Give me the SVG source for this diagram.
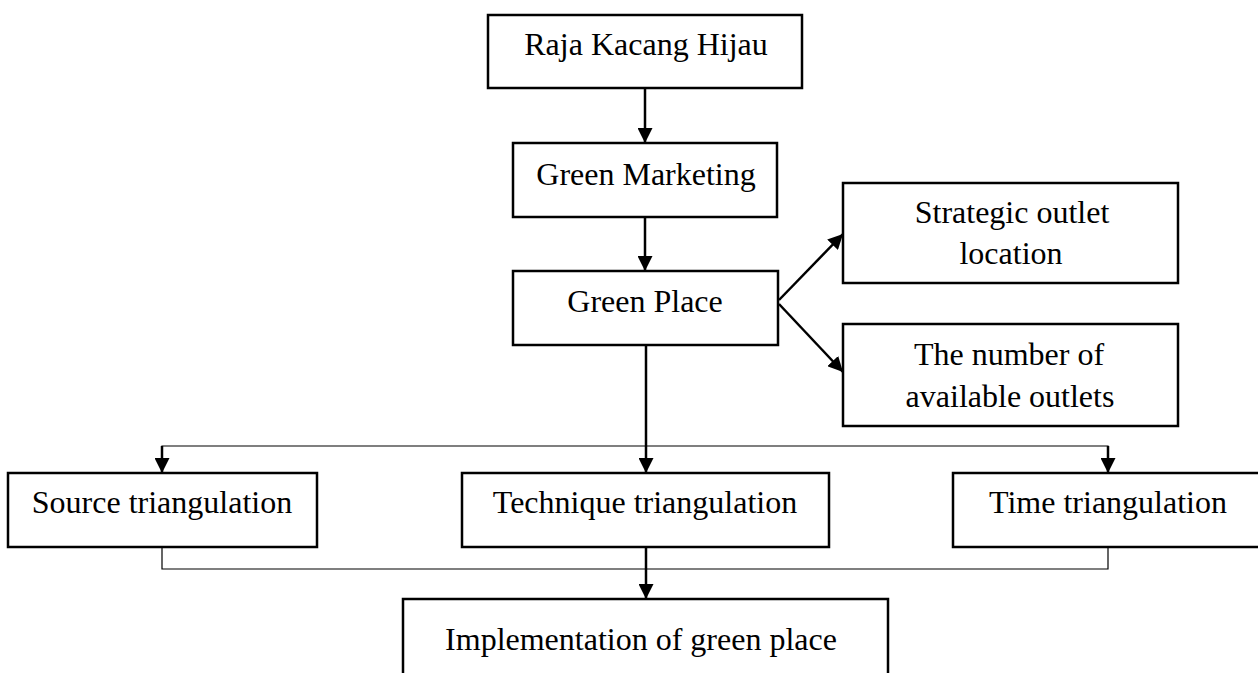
<svg xmlns="http://www.w3.org/2000/svg" width="1258" height="673" viewBox="0 0 1258 673">
<defs>
<marker id="ah" markerUnits="userSpaceOnUse" markerWidth="15" markerHeight="15" refX="15" refY="7.5" orient="auto">
<path d="M0,0 L15,7.5 L0,15 z" fill="#000"/>
</marker>
<style>
.box{fill:#fff;stroke:#000;stroke-width:2.5}
.t{font-family:"Liberation Serif","Times New Roman",serif;font-size:32px;fill:#000;text-anchor:middle}
.arr{stroke:#000;stroke-width:2.5;fill:none;marker-end:url(#ah)}
.thin{stroke:#000;stroke-width:1.2;fill:none}
</style>
</defs>
<rect width="1258" height="673" fill="#fff"/>
<g id="connectors">
<line class="arr" x1="645" y1="88" x2="645" y2="143"/>
<line class="arr" x1="645" y1="217" x2="645" y2="271"/>
<line class="arr" x1="779" y1="300" x2="843" y2="234"/>
<line class="arr" x1="779" y1="304" x2="843" y2="372"/>
<line class="arr" x1="646" y1="345" x2="646" y2="473"/>
<polyline class="thin" points="162,460 162,446 1108,446 1108,460"/>
<line class="arr" x1="162" y1="446" x2="162" y2="473"/>
<line class="arr" x1="1108" y1="446" x2="1108" y2="473"/>
<polyline class="thin" points="162,547 162,569 1108,569 1108,547"/>
<line class="arr" x1="646" y1="547" x2="646" y2="599"/>
</g>
<g id="raja">
<rect class="box" x="488" y="15" width="314" height="73"/>
<text class="t" x="646" y="55">Raja Kacang Hijau</text>
</g>
<g id="green-marketing">
<rect class="box" x="513" y="143" width="264" height="74"/>
<text class="t" x="646" y="185">Green Marketing</text>
</g>
<g id="green-place">
<rect class="box" x="513" y="271" width="265" height="74"/>
<text class="t" x="645" y="312">Green Place</text>
</g>
<g id="strategic">
<rect class="box" x="843" y="183" width="335" height="100"/>
<text class="t" x="1012" y="223">Strategic outlet</text>
<text class="t" x="1011" y="264">location</text>
</g>
<g id="number">
<rect class="box" x="843" y="324" width="335" height="102"/>
<text class="t" x="1009" y="365">The number of</text>
<text class="t" x="1010" y="407">available outlets</text>
</g>
<g id="source">
<rect class="box" x="8" y="473" width="309" height="74"/>
<text class="t" x="162" y="513">Source triangulation</text>
</g>
<g id="technique">
<rect class="box" x="462" y="473" width="367" height="74"/>
<text class="t" x="645" y="513">Technique triangulation</text>
</g>
<g id="time">
<rect class="box" x="953" y="473" width="310" height="74"/>
<text class="t" x="1108" y="513">Time triangulation</text>
</g>
<g id="implementation">
<rect class="box" x="403" y="599" width="485" height="110"/>
<text class="t" x="641" y="650">Implementation of green place</text>
</g>
</svg>
